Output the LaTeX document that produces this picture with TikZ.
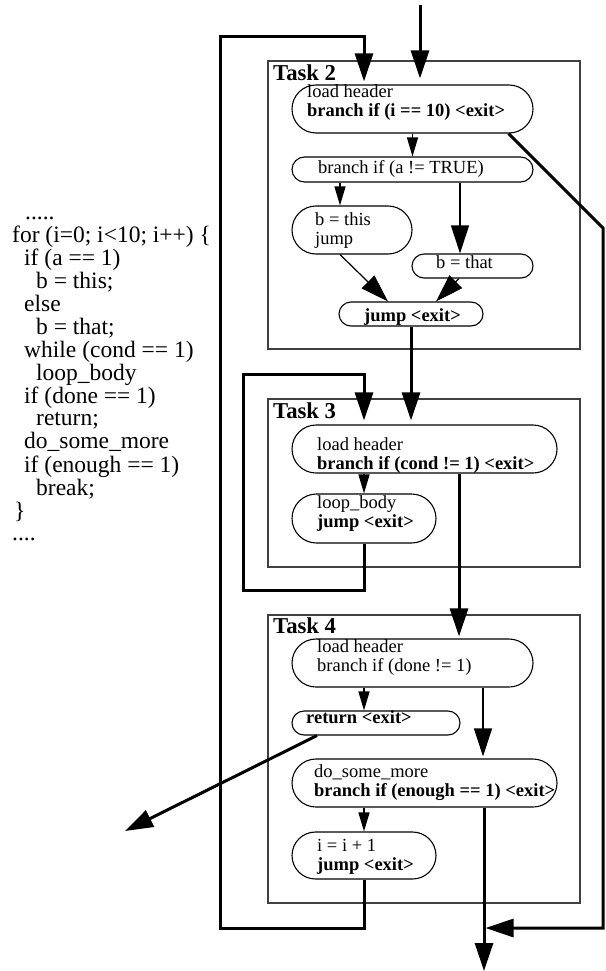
\documentclass[tikz,border=0pt]{standalone}
\usepackage{fontspec}
\setmainfont{Liberation Serif}
\usetikzlibrary{arrows.meta,shapes.misc}

% two lines of text in one block, baseline on the first line
\newcommand{\twoline}[2]{\begin{tabular}[t]{@{}l@{}}#1\\#2\end{tabular}}

\begin{document}
\begin{tikzpicture}[x=1pt,y=-1pt,
  task/.style={draw=black!75,line width=1.3pt},
  stmt/.style={draw,rounded rectangle,line width=1.1pt,inner sep=0pt},
  txt/.style={anchor=base west,inner sep=0pt,font=\fontsize{18.5}{19}\selectfont},
  tname/.style={anchor=base west,inner sep=0pt,font=\fontsize{22.7}{24}\selectfont\bfseries},
  flow/.style={line width=3pt},
  wire/.style={line width=1.2pt},
  sarr/.style={-{Triangle[length=19pt,width=11pt]}},
  barr/.style={-{Triangle[length=28pt,width=18pt]}}]

\useasboundingbox (0,0) rectangle (605,971);

% source code
\node[anchor=base west,inner sep=0pt,font=\fontsize{23.5}{22.3}\selectfont] (src) at (12,219)
  {\begin{tabular}[t]{@{}l@{}}
   \hspace*{13pt}.....\\
   for (i=0; i<10; i++) \{\\
   \hspace*{12pt}if (a == 1)\\
   \hspace*{24pt}b = this;\\
   \hspace*{12pt}else\\
   \hspace*{24pt}b = that;\\
   \hspace*{12pt}while (cond == 1)\\
   \hspace*{24pt}loop\_body\\
   \hspace*{12pt}if (done == 1)\\
   \hspace*{24pt}return;\\
   \hspace*{12pt}do\_some\_more\\
   \hspace*{12pt}if (enough == 1)\\
   \hspace*{24pt}break;\\
   \hspace*{2pt}\}\\
   ....
   \end{tabular}};

%%% Task 2
\draw[task] (268,61) rectangle (580,349);
\node[tname] (t2) at (273,81) {Task 2};
\node[stmt,minimum width=241pt,minimum height=48pt] (hd2) at (412.5,109) {};
\node[txt] (hd2t) at (307,98) {\twoline{load header}{\textbf{branch if (i == 10) <exit>}}};
\node[stmt,minimum width=241pt,minimum height=25pt] (br2) at (412.5,169.5) {};
\node[txt] (br2t) at (318,173) {branch if (a != TRUE)};
\node[stmt,minimum width=120pt,minimum height=48pt] (this2) at (352,230) {};
\node[txt] (this2t) at (315,225) {\twoline{b = this}{jump}};
\node[stmt,minimum width=121pt,minimum height=24pt] (that2) at (472.5,266) {};
\node[txt] (that2t) at (436,268) {b = that};
\node[stmt,minimum width=144pt,minimum height=24pt] (jmp2) at (411,314) {};
\node[txt] (jmp2t) at (364,321) {\textbf{jump <exit>}};

%%% Task 3
\draw[task] (268,399) rectangle (580,567);
\node[tname] (t3) at (273,418) {Task 3};
\node[stmt,minimum width=265pt,minimum height=48pt] (hd3) at (424.5,449) {};
\node[txt] (hd3t) at (317,450) {\twoline{load header}{\textbf{branch if (cond != 1) <exit>}}};
\node[stmt,minimum width=144pt,minimum height=49pt] (body3) at (364,518.5) {};
\node[txt] (body3t) at (317,508) {\twoline{loop\_body}{\textbf{jump <exit>}}};

%%% Task 4
\draw[task] (268,615) rectangle (580,903);
\node[tname] (t4) at (273,633) {Task 4};
\node[stmt,minimum width=241pt,minimum height=48pt] (hd4) at (412.5,663) {};
\node[txt] (hd4t) at (317,652) {\twoline{load header}{branch if (done != 1)}};
\node[stmt,minimum width=168pt,minimum height=24pt] (ret4) at (376,723) {};
\node[txt] (ret4t) at (306,723) {\textbf{return <exit>}};
\node[stmt,minimum width=265pt,minimum height=48pt] (more4) at (424.5,783) {};
\node[txt] (more4t) at (314,777) {\twoline{do\_some\_more}{\textbf{branch if (enough == 1) <exit>}}};
\node[stmt,minimum width=144pt,minimum height=47pt] (inc4) at (364,855.5) {};
\node[txt] (inc4t) at (317,851) {\twoline{i = i + 1}{\textbf{jump <exit>}}};

% free ends and corners
\coordinate (in) at (420,5);
\coordinate (out) at (484,971);
\coordinate (bigtl) at (220,37);
\coordinate (bigbl) at (220,928);
\coordinate (rtop) at (603,228);
\coordinate (rbot) at (603,928);
\coordinate (intl) at (243,374);
\coordinate (inbl) at (243,590);
\coordinate (retout) at (125,831);

% inside task 2
\draw[wire,sarr] (hd2.south) -- (br2.north);
\draw[wire,sarr] ([xshift=-12pt]this2.north |- br2.south) -- ([xshift=-12pt]this2.north);
\draw[wire,barr] ([xshift=-12.5pt]that2.north |- br2.south) -- ([xshift=-12.5pt]that2.north);
\draw[wire,barr] ([xshift=-12pt]this2.south) -- ([xshift=-23pt]jmp2.north);
\draw[wire,barr] ([xshift=-13.5pt]that2.south) -- ([xshift=25pt]jmp2.north);

% inside task 3 and 4
\draw[wire,sarr] (body3.north |- hd3.south) -- (body3.north);
\draw[wire,sarr] ([xshift=-12pt]ret4.north |- hd4.south) -- ([xshift=-12pt]ret4.north);
\draw[wire,barr,shorten >=2pt] ([xshift=58.5pt]more4.north |- hd4.south) -- ([xshift=58.5pt]more4.north);
\draw[wire,sarr] (inc4.north |- more4.south) -- (inc4.north);

% control flow between tasks
\draw[flow,barr,shorten >=6pt] (in) -- (in |- hd2.north);
\draw[flow,barr,shorten >=3pt] (inc4.south) |- (bigbl) -- (bigtl) -| (inc4.south |- hd2.north);
\draw[flow,barr] ([xshift=96pt]hd2.south) -- (rtop) -- (rbot) -- ([xshift=1.5pt]out |- rbot);
\draw[flow,barr,shorten >=4pt] (jmp2.south) -- (jmp2.south |- hd3.north);
\draw[flow,barr,shorten >=4pt] (body3.south) |- (inbl) -- (intl) -| (body3.north |- hd3.north);
\draw[flow,barr,shorten >=2pt] ([xshift=46.5pt]hd4.north |- hd3.south) -- ([xshift=46.5pt]hd4.north);
\draw[flow,barr] ([xshift=-59pt]ret4.south) -- (retout);
\draw[flow,barr] ([xshift=59.5pt]more4.south) -- (out);

\end{tikzpicture}
\end{document}
